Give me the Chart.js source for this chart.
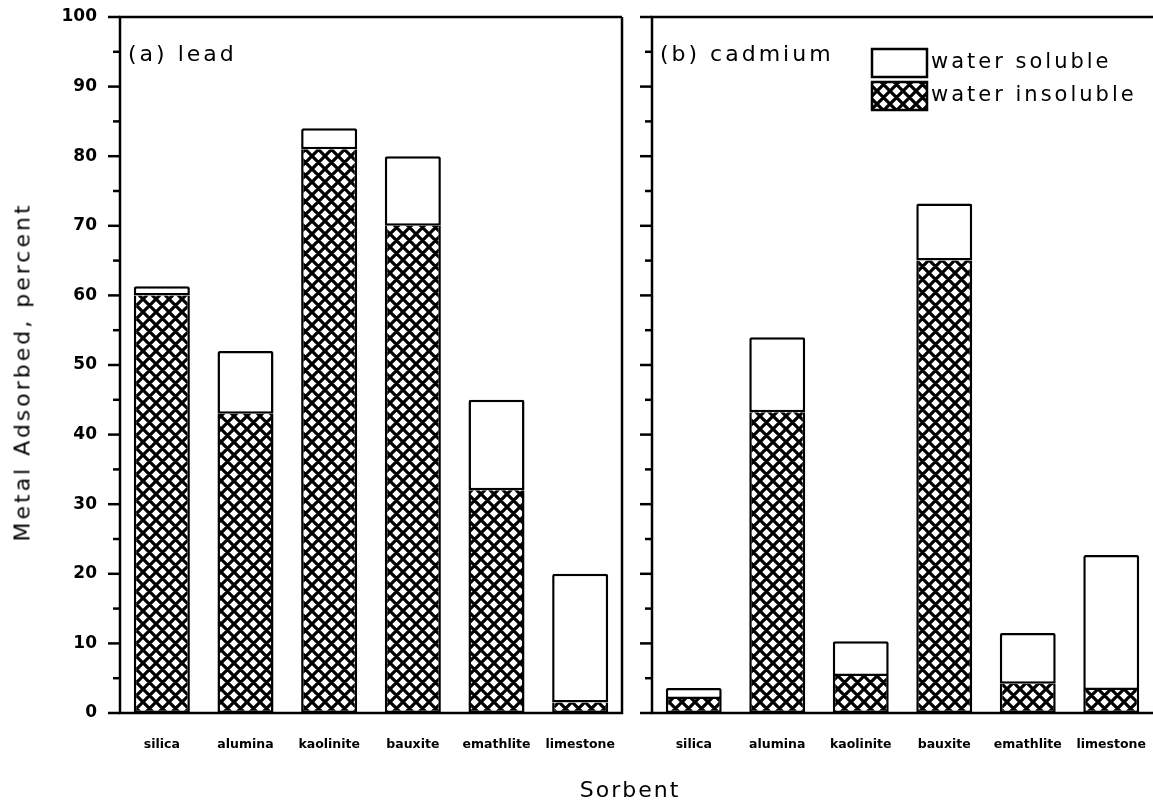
<!DOCTYPE html>
<html>
<head>
<meta charset="utf-8">
<script src="https://cdn.jsdelivr.net/npm/chart.js@4.4.1/dist/chart.umd.min.js"></script>
<style>
  html, body { margin: 0; padding: 0; background: #fff; }
  #wrap { position: relative; width: 1153px; height: 802px; overflow: hidden; font-family: "DejaVu Sans", sans-serif; color: #000; }
  #leadBox { position: absolute; left: 0; top: 0; width: 640px; height: 802px; }
  #cadBox { position: absolute; left: 630px; top: 0; width: 523px; height: 802px; }
  .ytitle { position: absolute; left: 22px; top: 372px; transform: translate(-50%, -50%) rotate(-90deg); white-space: nowrap; font-size: 22px; letter-spacing: 3px; }
  .xtitle { position: absolute; left: 630px; top: 789px; transform: translate(-50%, -50%); white-space: nowrap; font-size: 22px; letter-spacing: 2px; }
</style>
</head>
<body>
<div id="wrap">
  <div id="leadBox"><canvas id="leadChart"></canvas></div>
  <div id="cadBox"><canvas id="cadChart"></canvas></div>
  <div class="ytitle">Metal Adsorbed, percent</div>
  <div class="xtitle">Sorbent</div>
</div>
<script>
const sorbents = ["silica", "alumina", "kaolinite", "bauxite", "emathlite", "limestone"];

// lead, percent adsorbed
const leadInsoluble = [60, 43, 81, 70, 32, 1.5];
const leadSoluble = [1.3, 9, 3, 10, 13, 18.5];

// cadmium, percent adsorbed
const cadmiumInsoluble = [2, 43.2, 5.3, 65, 4.2, 3.3];
const cadmiumSoluble = [1.6, 10.8, 5, 8.2, 7.3, 19.4];

const yMax = 100;
const yStep = 5;
const seriesNames = ["water insoluble", "water soluble"];

const INK = "#000";
const LINE = 2.5;

// cross-hatch fill for the insoluble part
function makeHatch() {
  const s = 13;
  const c = document.createElement("canvas");
  c.width = s;
  c.height = s;
  const g = c.getContext("2d");
  g.fillStyle = "#fff";
  g.fillRect(0, 0, s, s);
  g.strokeStyle = INK;
  g.lineWidth = 3.2;
  g.beginPath();
  for (const o of [-s, 0, s]) {
    g.moveTo(o, 0); g.lineTo(o + s, s);
    g.moveTo(o + s, 0); g.lineTo(o, s);
  }
  g.stroke();
  return g.createPattern(c, "repeat");
}

const hatch = makeHatch();

// tick marks on the left edge: long at tens, short at fives
const tickMarks = {
  id: "tickMarks",
  afterDraw(chart) {
    const y = chart.scales.y;
    const ctx = chart.ctx;
    const left = chart.chartArea.left;
    ctx.save();
    ctx.strokeStyle = INK;
    ctx.lineWidth = LINE;
    y.ticks.forEach((t) => {
      const py = y.getPixelForValue(t.value);
      const len = t.value % 10 === 0 ? 12 : 7;
      ctx.beginPath();
      ctx.moveTo(left - len, py);
      ctx.lineTo(left, py);
      ctx.stroke();
    });
    ctx.restore();
  },
};

const frame = {
  id: "frame",
  afterDraw(chart, args, opts) {
    const { left, right, top, bottom } = chart.chartArea;
    const ctx = chart.ctx;
    const r = opts.open ? chart.width : right;
    ctx.save();
    ctx.strokeStyle = INK;
    ctx.lineWidth = LINE;
    ctx.beginPath();
    ctx.moveTo(r, top);
    ctx.lineTo(left, top);
    ctx.lineTo(left, bottom);
    ctx.lineTo(r, bottom);
    if (!opts.open) ctx.lineTo(r, top);
    ctx.stroke();
    ctx.restore();
  },
};

const panelLabel = {
  id: "panelLabel",
  afterDraw(chart, args, opts) {
    const ctx = chart.ctx;
    ctx.save();
    ctx.font = "22px 'DejaVu Sans'";
    ctx.letterSpacing = "3px";
    ctx.fillStyle = INK;
    ctx.textBaseline = "middle";
    ctx.fillText(opts.text, chart.chartArea.left + 8, 55);
    ctx.restore();
  },
};

const boxLegend = {
  id: "boxLegend",
  afterDraw(chart, args, opts) {
    if (!opts.show) return;
    const ctx = chart.ctx;
    const x = chart.chartArea.left + 220;
    let y = 49;
    ctx.save();
    ctx.font = "21px 'DejaVu Sans'";
    ctx.letterSpacing = "3px";
    ctx.textBaseline = "middle";
    chart.data.datasets.slice().reverse().forEach((ds) => {
      ctx.fillStyle = ds.backgroundColor;
      ctx.fillRect(x, y, 55, 28);
      ctx.strokeStyle = INK;
      ctx.lineWidth = LINE;
      ctx.strokeRect(x, y, 55, 28);
      ctx.fillStyle = INK;
      ctx.fillText(ds.label, x + 59, y + 14);
      y += 33;
    });
    ctx.restore();
  },
};

function buildChart(canvasId, insoluble, soluble, label, axisWidth, padRight, showLabels, showLegend) {
  const ctx = document.getElementById(canvasId).getContext("2d");
  return new Chart(ctx, {
    type: "bar",
    data: {
      labels: sorbents,
      datasets: [
        {
          label: seriesNames[0],
          data: insoluble,
          backgroundColor: hatch,
          borderColor: INK,
          borderWidth: LINE,
          borderSkipped: "end",
          barPercentage: 0.67,
          categoryPercentage: 1,
        },
        {
          label: seriesNames[1],
          data: soluble,
          backgroundColor: "#fff",
          borderColor: INK,
          borderWidth: LINE,
          borderSkipped: false,
          borderRadius: { topLeft: 2, topRight: 2 },
          barPercentage: 0.67,
          categoryPercentage: 1,
        },
      ],
    },
    options: {
      responsive: true,
      maintainAspectRatio: false,
      animation: false,
      layout: { padding: { top: 17, right: padRight, left: 0, bottom: 0 } },
      plugins: {
        legend: { display: false },
        tooltip: { enabled: false },
        frame: { open: !showLabels },
        panelLabel: { text: label },
        boxLegend: { show: showLegend },
      },
      scales: {
        x: {
          stacked: true,
          grid: { display: false, drawTicks: false },
          border: { display: false },
          ticks: {
            color: INK,
            padding: 24,
            maxRotation: 0,
            autoSkip: false,
            font: { family: "DejaVu Sans", weight: "bold", size: 12.5 },
          },
          afterFit: (scale) => {
            scale.height = 89;
            scale.paddingLeft = 0;
            scale.paddingRight = 0;
          },
        },
        y: {
          stacked: true,
          min: 0,
          max: yMax,
          grid: { display: false, drawTicks: false },
          border: { display: false },
          ticks: {
            stepSize: yStep,
            autoSkip: false,
            color: INK,
            padding: 23,
            font: { family: "DejaVu Sans", weight: "bold", size: 17 },
            callback: (v) => (showLabels && v % 10 === 0 ? v : ""),
          },
          afterFit: (scale) => {
            scale.width = axisWidth;
            scale.paddingTop = 0;
            scale.paddingBottom = 0;
          },
        },
      },
    },
    plugins: [frame, tickMarks, panelLabel, boxLegend],
  });
}

buildChart("leadChart", leadInsoluble, leadSoluble, "(a) lead", 120, 18, true, false);
buildChart("cadChart", cadmiumInsoluble, cadmiumSoluble, "(b) cadmium", 22, 0, false, true);
</script>
</body>
</html>
